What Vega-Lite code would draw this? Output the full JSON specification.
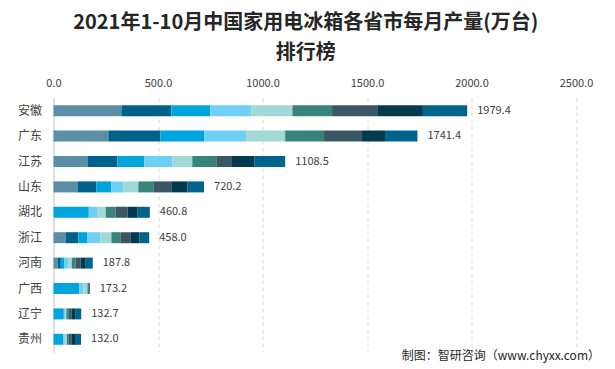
{
  "$schema": "https://vega.github.io/schema/vega-lite/v6.json",
  "width": 522.5,
  "height": 254,
  "autosize": {"type": "none"},
  "padding": {"left": 53.5, "top": 98, "right": 38.5, "bottom": 17},
  "background": "white",
  "config": {
    "font": "Noto Sans CJK SC",
    "view": {"stroke": null}
  },
  "title": {
    "text": ["2021年1-10月中国家用电冰箱各省市每月产量(万台)", "排行榜"],
    "fontSize": 20,
    "fontWeight": "bold",
    "color": "#262626",
    "lineHeight": 30,
    "anchor": "middle",
    "frame": "group",
    "dx": -9,
    "offset": 14
  },
  "data": {
    "values": [
      {"province": "安徽", "month": "1-2月", "m": 1, "value": 324.8},
      {"province": "安徽", "month": "3月", "m": 2, "value": 238.9},
      {"province": "安徽", "month": "4月", "m": 3, "value": 186.3},
      {"province": "安徽", "month": "5月", "m": 4, "value": 195.9},
      {"province": "安徽", "month": "6月", "m": 5, "value": 197.1},
      {"province": "安徽", "month": "7月", "m": 6, "value": 190.0},
      {"province": "安徽", "month": "8月", "m": 7, "value": 219.5},
      {"province": "安徽", "month": "9月", "m": 8, "value": 215.0},
      {"province": "安徽", "month": "10月", "m": 9, "value": 211.9},
      {"province": "广东", "month": "1-2月", "m": 1, "value": 262.7},
      {"province": "广东", "month": "3月", "m": 2, "value": 248.4},
      {"province": "广东", "month": "4月", "m": 3, "value": 210.2},
      {"province": "广东", "month": "5月", "m": 4, "value": 200.7},
      {"province": "广东", "month": "6月", "m": 5, "value": 186.3},
      {"province": "广东", "month": "7月", "m": 6, "value": 186.3},
      {"province": "广东", "month": "8月", "m": 7, "value": 181.5},
      {"province": "广东", "month": "9月", "m": 8, "value": 109.9},
      {"province": "广东", "month": "10月", "m": 9, "value": 155.4},
      {"province": "江苏", "month": "1-2月", "m": 1, "value": 162.4},
      {"province": "江苏", "month": "3月", "m": 2, "value": 143.3},
      {"province": "江苏", "month": "4月", "m": 3, "value": 129.0},
      {"province": "江苏", "month": "5月", "m": 4, "value": 133.8},
      {"province": "江苏", "month": "6月", "m": 5, "value": 95.5},
      {"province": "江苏", "month": "7月", "m": 6, "value": 114.7},
      {"province": "江苏", "month": "8月", "m": 7, "value": 71.6},
      {"province": "江苏", "month": "9月", "m": 8, "value": 109.9},
      {"province": "江苏", "month": "10月", "m": 9, "value": 148.3},
      {"province": "山东", "month": "1-2月", "m": 1, "value": 114.6},
      {"province": "山东", "month": "3月", "m": 2, "value": 90.8},
      {"province": "山东", "month": "4月", "m": 3, "value": 71.7},
      {"province": "山东", "month": "5月", "m": 4, "value": 57.3},
      {"province": "山东", "month": "6月", "m": 5, "value": 71.6},
      {"province": "山东", "month": "7月", "m": 6, "value": 71.7},
      {"province": "山东", "month": "8月", "m": 7, "value": 86.0},
      {"province": "山东", "month": "9月", "m": 8, "value": 76.4},
      {"province": "山东", "month": "10月", "m": 9, "value": 80.1},
      {"province": "湖北", "month": "4月", "m": 3, "value": 168.8},
      {"province": "湖北", "month": "5月", "m": 4, "value": 43.0},
      {"province": "湖北", "month": "6月", "m": 5, "value": 38.2},
      {"province": "湖北", "month": "7月", "m": 6, "value": 47.8},
      {"province": "湖北", "month": "8月", "m": 7, "value": 57.3},
      {"province": "湖北", "month": "9月", "m": 8, "value": 47.8},
      {"province": "湖北", "month": "10月", "m": 9, "value": 57.9},
      {"province": "浙江", "month": "1-2月", "m": 1, "value": 57.3},
      {"province": "浙江", "month": "3月", "m": 2, "value": 62.1},
      {"province": "浙江", "month": "4月", "m": 3, "value": 43.0},
      {"province": "浙江", "month": "5月", "m": 4, "value": 62.1},
      {"province": "浙江", "month": "6月", "m": 5, "value": 52.5},
      {"province": "浙江", "month": "7月", "m": 6, "value": 43.0},
      {"province": "浙江", "month": "8月", "m": 7, "value": 47.8},
      {"province": "浙江", "month": "9月", "m": 8, "value": 43.0},
      {"province": "浙江", "month": "10月", "m": 9, "value": 47.2},
      {"province": "河南", "month": "1-2月", "m": 1, "value": 20.7},
      {"province": "河南", "month": "3月", "m": 2, "value": 14.3},
      {"province": "河南", "month": "4月", "m": 3, "value": 17.5},
      {"province": "河南", "month": "5月", "m": 4, "value": 17.5},
      {"province": "河南", "month": "6月", "m": 5, "value": 17.5},
      {"province": "河南", "month": "7月", "m": 6, "value": 17.5},
      {"province": "河南", "month": "8月", "m": 7, "value": 23.9},
      {"province": "河南", "month": "9月", "m": 8, "value": 25.5},
      {"province": "河南", "month": "10月", "m": 9, "value": 33.4},
      {"province": "广西", "month": "4月", "m": 3, "value": 124.2},
      {"province": "广西", "month": "5月", "m": 4, "value": 19.1},
      {"province": "广西", "month": "6月", "m": 5, "value": 19.1},
      {"province": "广西", "month": "7月", "m": 6, "value": 3.0},
      {"province": "广西", "month": "8月", "m": 7, "value": 3.6},
      {"province": "广西", "month": "9月", "m": 8, "value": 4.2},
      {"province": "辽宁", "month": "4月", "m": 3, "value": 49.4},
      {"province": "辽宁", "month": "5月", "m": 4, "value": 6.0},
      {"province": "辽宁", "month": "6月", "m": 5, "value": 6.0},
      {"province": "辽宁", "month": "7月", "m": 6, "value": 12.0},
      {"province": "辽宁", "month": "8月", "m": 7, "value": 14.0},
      {"province": "辽宁", "month": "9月", "m": 8, "value": 16.0},
      {"province": "辽宁", "month": "10月", "m": 9, "value": 29.3},
      {"province": "贵州", "month": "4月", "m": 3, "value": 47.8},
      {"province": "贵州", "month": "5月", "m": 4, "value": 6.4},
      {"province": "贵州", "month": "6月", "m": 5, "value": 9.6},
      {"province": "贵州", "month": "7月", "m": 6, "value": 9.6},
      {"province": "贵州", "month": "8月", "m": 7, "value": 14.3},
      {"province": "贵州", "month": "9月", "m": 8, "value": 19.1},
      {"province": "贵州", "month": "10月", "m": 9, "value": 25.2}
    ]
  },
  "encoding": {
    "y": {
      "field": "province",
      "type": "nominal",
      "sort": ["安徽", "广东", "江苏", "山东", "湖北", "浙江", "河南", "广西", "辽宁", "贵州"],
      "scale": {"paddingInner": 0.5, "paddingOuter": 0.25},
      "axis": {
        "title": null,
        "ticks": false,
        "labelFontSize": 12,
        "labelColor": "#404040",
        "labelPadding": 12,
        "domainColor": "#D9D9D9",
        "domainWidth": 1.5
      }
    }
  },
  "layer": [
    {
      "mark": {"type": "bar", "size": 11},
      "encoding": {
        "x": {
          "field": "value",
          "type": "quantitative",
          "aggregate": "sum",
          "stack": "zero",
          "scale": {"domain": [0, 2500], "nice": false},
          "axis": {
            "orient": "top",
            "title": null,
            "values": [0, 500, 1000, 1500, 2000, 2500],
            "format": ".1f",
            "labelFontSize": 11,
            "labelColor": "#404040",
            "labelPadding": 10,
            "labelFlush": false,
            "ticks": false,
            "domain": false,
            "grid": true,
            "gridColor": "#D9D9D9",
            "gridDash": [4, 3],
            "gridWidth": 1
          }
        },
        "color": {
          "field": "month",
          "type": "nominal",
          "legend": null,
          "scale": {
            "domain": ["1-2月", "3月", "4月", "5月", "6月", "7月", "8月", "9月", "10月"],
            "range": ["#5B8FA8", "#00618A", "#00A5DE", "#6FCFF5", "#A2D8D5", "#378578", "#3B5664", "#033A4E", "#00648C"]
          }
        },
        "order": {"field": "m", "type": "quantitative"}
      }
    },
    {
      "transform": [
        {"aggregate": [{"op": "sum", "field": "value", "as": "total"}], "groupby": ["province"]}
      ],
      "mark": {"type": "text", "align": "left", "baseline": "middle", "dx": 10, "fontSize": 11, "color": "#404040"},
      "encoding": {
        "x": {
          "field": "total",
          "type": "quantitative",
          "axis": {
            "orient": "bottom",
            "title": "制图：智研咨询（www.chyxx.com）",
            "labels": false,
            "ticks": false,
            "domain": false,
            "grid": false,
            "titleFontSize": 12,
            "titleFontWeight": "normal",
            "titleColor": "#262626",
            "titleAlign": "right",
            "titleAnchor": null,
            "titleX": 546,
            "titleY": 3,
            "titleBaseline": "middle"
          }
        },
        "text": {"field": "total", "type": "quantitative", "format": ".1f"}
      }
    }
  ],
  "resolve": {"axis": {"x": "independent"}}
}
